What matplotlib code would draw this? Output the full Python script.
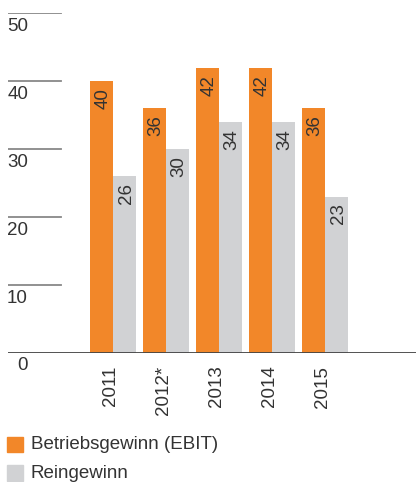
import matplotlib.pyplot as plt
from matplotlib.patches import Rectangle
from matplotlib.transforms import offset_copy
import numpy as np

plt.rcParams['font.family'] = ['Liberation Sans', 'DejaVu Sans']

# data
years = ['2011', '2012*', '2013', '2014', '2015']
ebit = [40, 36, 42, 42, 36]
reingewinn = [26, 30, 34, 34, 23]
series_names = ['Betriebsgewinn (EBIT)', 'Reingewinn']
y_ticks = [0, 10, 20, 30, 40, 50]

orange = '#F28729'
grey = '#D1D2D4'
text_col = '#333333'
fs = 13.5

W, H = 416, 482
fig = plt.figure(figsize=(W / 100, H / 100), dpi=100)

# axes placed in pixel terms: zero line at y=352.5, 50 at y=13.5, x from 8 to 416
ax = fig.add_axes([8 / W, (H - 352.5) / H, 408 / W, 339 / H])
ax.set_ylim(0, 50)
ax.set_xlim((8 - 113) / 53, (416 - 113) / 53)
ax.axis('off')

x = np.arange(len(years))
w = 23 / 53
ax.bar(x - w / 2, ebit, width=w, color=orange)
ax.bar(x + w / 2, reingewinn, width=w, color=grey)

# short gridline stubs and y labels
for t in y_ticks:
    if t == 0:
        ax.axhline(0, color='#444444', lw=1.3)
    else:
        ax.axhline(t, xmin=0, xmax=53 / 408, color='#888888', lw=1.3)
    tr = offset_copy(ax.get_yaxis_transform(), fig=fig, x=0, y=-3.5, units='points')
    ax.text(20 / 408, t, str(t), transform=tr, ha='right', va='top',
            fontsize=fs, color=text_col)

# value labels inside bars
for i in range(len(years)):
    for xv, val in [(x[i] - w / 2, ebit[i]), (x[i] + w / 2, reingewinn[i])]:
        tr = offset_copy(ax.transData, fig=fig, x=1.3, y=-5, units='points')
        ax.text(xv, val, str(val), transform=tr, rotation=90, ha='center', va='top',
                fontsize=fs, color=text_col)

# year labels
for i, yr in enumerate(years):
    tr = offset_copy(ax.transData, fig=fig, x=-1.5, y=-9.5, units='points')
    ax.text(x[i], 0, yr, transform=tr, rotation=90, ha='center', va='top',
            fontsize=fs, color=text_col)

# legend drawn by hand
for k, (name, col) in enumerate(zip(series_names, [orange, grey])):
    top = 436.5 + k * 28.5
    fig.patches.append(Rectangle((7 / W, (H - top - 15.5) / H), 16 / W, 15.5 / H,
                                 transform=fig.transFigure, color=col))
    fig.text(31 / W, (H - top - 8) / H, name, ha='left', va='center',
             fontsize=fs, color=text_col)

fig.savefig('out.png', dpi=100)
